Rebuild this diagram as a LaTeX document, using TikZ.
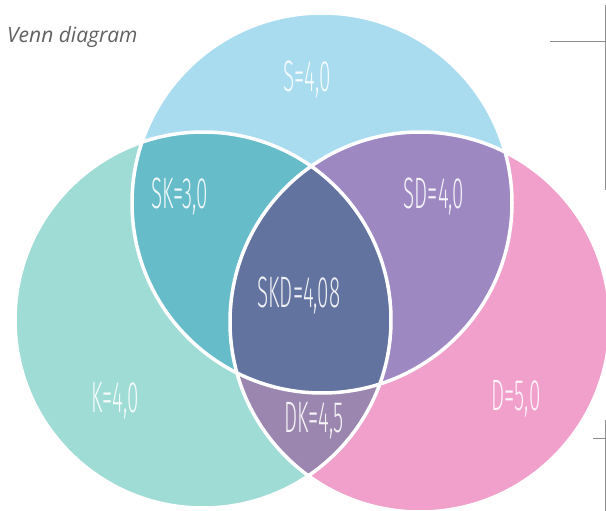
\documentclass[tikz,border=0pt]{standalone}
\usepackage{fontspec}
\newfontfamily\titlefont{Open Sans}
\newfontfamily\vennfont[FakeStretch=0.47]{Fira Sans Light}
\usepackage{xcolor}
\definecolor{vennS}{HTML}{A9DCEF}
\definecolor{vennK}{HTML}{A0DCD6}
\definecolor{vennD}{HTML}{F0A0CB}
\definecolor{vennSK}{HTML}{66BCC8}
\definecolor{vennSD}{HTML}{9D88C2}
\definecolor{vennDK}{HTML}{9A86AE}
\definecolor{vennSKD}{HTML}{63739F}
\definecolor{frameGray}{HTML}{8C8C8C}
\usepackage{tikz}

% the three circles
\newcommand\circS{(322,203) circle (190)}
\newcommand\circK{(203,320) circle (188)}
\newcommand\circD{(420,322) circle (190)}

\begin{document}
\begin{tikzpicture}[x=1pt, y=-1pt,
    venntext/.style={text=white, text opacity=0.9, inner sep=0pt,
      font=\vennfont\fontsize{44}{46}\selectfont}]
  \useasboundingbox (0,0) rectangle (606,511);
  % single sets
  \fill[vennK] \circK;
  \fill[vennD] \circD;
  % D and K without S
  \begin{scope}
    \clip \circK;
    \fill[vennDK] \circD;
  \end{scope}
  \fill[vennS] \circS;
  % overlaps with S
  \begin{scope}
    \clip \circS;
    \fill[vennSK] \circK;
    \fill[vennSD] \circD;
    \clip \circK;
    \fill[vennSKD] \circD;
  \end{scope}
  % white borders
  \draw[white, line width=3.5pt] \circK \circD \circS;
  % region labels
  \node[venntext] (s)   at (307,80)  {S=4,0};
  \node[venntext] (sk)  at (180,197) {SK=3,0};
  \node[venntext] (sd)  at (434,197) {SD=4,0};
  \node[venntext] (skd) at (299,296) {SKD=4,08};
  \node[venntext] (dk)  at (314,421) {DK=4,5};
  \node[venntext] (k)   at (115,401) {K=4,0};
  \node[venntext] (d)   at (516,399) {D=5,0};
  % title
  \node[anchor=base west, inner sep=0pt, text=black!62,
    font=\titlefont\itshape\fontsize{21}{25}\selectfont] (title) at (7,43) {Venn diagram};
  % frame ticks on the right
  \draw[frameGray, line width=1pt] (605,5) -- (605,190) (550,42) -- (606,42);
  \draw[frameGray, line width=1pt] (605,420) -- (605,511) (593,438) -- (606,438);
\end{tikzpicture}
\end{document}
